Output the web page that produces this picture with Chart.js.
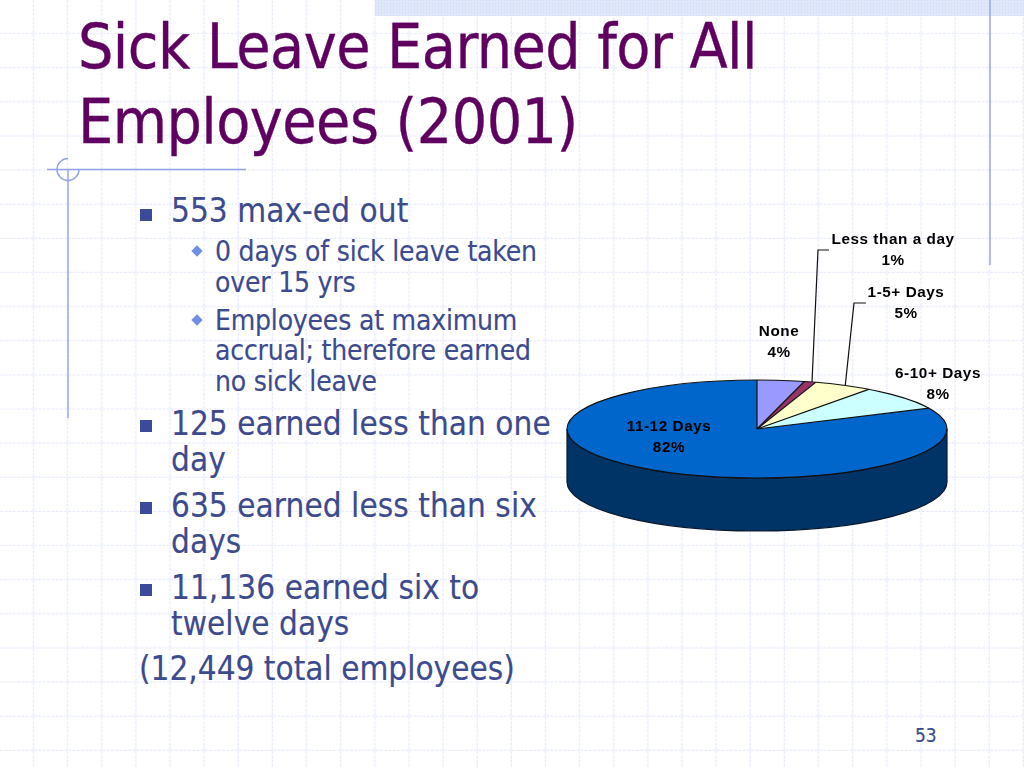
<!DOCTYPE html>
<html>
<head>
<meta charset="utf-8">
<title>Sick Leave Earned for All Employees (2001)</title>
<script src="https://cdn.jsdelivr.net/npm/chart.js@4"></script>
<style>
    html, body { margin: 0; padding: 0; background: #fff; width: 1024px; height: 768px; overflow: hidden; }
    svg, canvas { position: absolute; left: 0; top: 0; }
    .t { position: absolute; white-space: nowrap; font-family: "DejaVu Sans"; font-stretch: condensed; color: #3c4a8e; line-height: 1; -webkit-text-stroke: 0.15px #3c4a8e; }
    .title { color: #5f0060; font-size: 62px; left: 78px; letter-spacing: -0.55px; -webkit-text-stroke: 0.35px #5f0060; }
    .l1 { font-size: 33px; left: 171px; letter-spacing: 0.05px; }
    .l2 { font-size: 28px; left: 215px; letter-spacing: -0.2px; }
    .sq { position: absolute; left: 140px; width: 12px; height: 12px; background: #3c4a9a; }
    .di { position: absolute; left: 193px; width: 8px; height: 8px; background: #6f8fe8; transform: rotate(45deg); }
</style>
</head>
<body>
<svg width="1024" height="768">
    <defs>
        <pattern id="grid" width="34.133" height="34.133" patternUnits="userSpaceOnUse">
            <path d="M33.6 0V34.133M0 33.6H34.133" stroke="#e8ebfb" stroke-width="1.6" stroke-dasharray="3 1.3" fill="none"/>
        </pattern>
        <pattern id="dots" width="3" height="3" patternUnits="userSpaceOnUse">
            <rect width="3" height="3" fill="#dfe7fa"/>
            <rect width="1" height="1" fill="#cfdaf5"/>
        </pattern>
    </defs>
    <rect width="1024" height="768" fill="url(#grid)"/>
    <rect x="375" y="0" width="649" height="16" fill="url(#dots)"/>
    <g stroke="#93a3e6" fill="none" stroke-width="1.4">
        <path d="M990 0V265"/>
        <path d="M68 169V418"/>
        <path d="M47 169.5H246"/>
        <path d="M68 158.5A11 11 0 0 0 57 169.5A11 11 0 0 0 79 169.5"/>
    </g>
</svg>

<div class="t title" style="top:16px">Sick Leave Earned for All</div>
<div class="t title" style="top:91px">Employees (2001)</div>

<div class="sq" style="top:209px"></div>
<div class="t l1" style="top:194px">553 max-ed out</div>
<div class="di" style="top:247px"></div>
<div class="t l2" style="top:238px">0 days of sick leave taken</div>
<div class="t l2" style="top:269px">over 15 yrs</div>
<div class="di" style="top:316px"></div>
<div class="t l2" style="top:307px">Employees at maximum</div>
<div class="t l2" style="top:337px">accrual; therefore earned</div>
<div class="t l2" style="top:368px">no sick leave</div>
<div class="sq" style="top:420px"></div>
<div class="t l1" style="top:407px">125 earned less than one</div>
<div class="t l1" style="top:443px">day</div>
<div class="sq" style="top:502px"></div>
<div class="t l1" style="top:489px">635 earned less than six</div>
<div class="t l1" style="top:525px">days</div>
<div class="sq" style="top:584px"></div>
<div class="t l1" style="top:571px">11,136 earned six to</div>
<div class="t l1" style="top:607px">twelve days</div>
<div class="t" style="top:652px;left:139px;font-size:33px">(12,449 total employees)</div>
<div class="t" style="top:726px;left:915px;font-size:19px">53</div>

<canvas id="pie" width="1024" height="768"></canvas>

<script>
const categories = ['None', 'Less than a day', '1-5+ Days', '6-10+ Days', '11-12 Days'];
const shares = [4, 1, 5, 8, 82];
const sliceColors = ['#9999ff', '#993366', '#ffffcc', '#ccffff', '#0066cc'];
const sideColors = ['#4d4d80', '#4d1a33', '#808066', '#668080', '#003366'];

// где стоят подписи (центр первой строки)
const labelSpots = [[779, 331.5], [893, 239.5], [906, 292.5], [938, 373.5], [669, 426.5]];
// выноски: от конца полочки к середине дольки
const leaders = { 1: [829, 250, 818, 250], 2: [866, 303, 854, 303] };

const squash = 0.258;   // наклон диска
const depth = 53;       // высота боковой стенки

const pie3d = {
    id: 'pie3d',
    beforeDatasetsDraw(chart) {
        const ctx = chart.ctx;
        const arcs = chart.getDatasetMeta(0).data;
        const { x, y, outerRadius: r } = arcs[0];
        const ry = r * squash;

        // боковая стенка, только передняя половина
        arcs.forEach((arc, i) => {
            const from = Math.max(arc.startAngle, 0);
            const to = Math.min(arc.endAngle, Math.PI);
            if (to <= from) return;
            ctx.beginPath();
            ctx.ellipse(x, y, r, ry, 0, from, to);
            ctx.ellipse(x, y + depth, r, ry, 0, to, from, true);
            ctx.closePath();
            ctx.fillStyle = sideColors[i];
            ctx.fill();
            ctx.strokeStyle = '#0a1a30';
            ctx.lineWidth = 1.2;
            ctx.stroke();
        });

        // сам круг рисуется сплюснутым
        ctx.save();
        ctx.translate(x, y);
        ctx.scale(1, squash);
        ctx.translate(-x, -y);
    },
    afterDatasetsDraw(chart) {
        const ctx = chart.ctx;
        ctx.restore();

        const arcs = chart.getDatasetMeta(0).data;
        const { x, y, outerRadius: r } = arcs[0];
        const ry = r * squash;

        // контуры долек
        ctx.strokeStyle = '#101010';
        ctx.lineWidth = 1.2;
        arcs.forEach(arc => {
            ctx.beginPath();
            ctx.moveTo(x, y);
            ctx.lineTo(x + r * Math.cos(arc.startAngle), y + ry * Math.sin(arc.startAngle));
            ctx.stroke();
        });
        ctx.beginPath();
        ctx.ellipse(x, y, r, ry, 0, 0, Math.PI * 2);
        ctx.stroke();

        // выноски
        Object.keys(leaders).forEach(i => {
            const arc = arcs[i];
            const mid = (arc.startAngle + arc.endAngle) / 2;
            const p = leaders[i];
            ctx.beginPath();
            ctx.moveTo(p[0], p[1]);
            ctx.lineTo(p[2], p[3]);
            ctx.lineTo(x + 2 + r * Math.cos(mid), y + ry * Math.sin(mid));
            ctx.stroke();
        });

        // подписи
        ctx.fillStyle = '#000';
        ctx.font = 'bold 15.3px "Liberation Sans"';
        ctx.letterSpacing = '0.55px';
        ctx.textAlign = 'center';
        ctx.textBaseline = 'middle';
        categories.forEach((name, i) => {
            const [lx, ly] = labelSpots[i];
            ctx.fillText(name, lx, ly);
            ctx.fillText(shares[i] + '%', lx, ly + 21.5);
        });
    }
};

new Chart(document.getElementById('pie'), {
    type: 'pie',
    data: {
        labels: categories,
        datasets: [{ data: shares, backgroundColor: sliceColors, borderWidth: 0 }]
    },
    options: {
        responsive: false,
        animation: false,
        events: [],
        layout: { padding: { left: 567, right: 77, top: 239, bottom: 149 } },
        plugins: { legend: { display: false }, tooltip: { enabled: false } }
    },
    plugins: [pie3d]
});
</script>
</body>
</html>
